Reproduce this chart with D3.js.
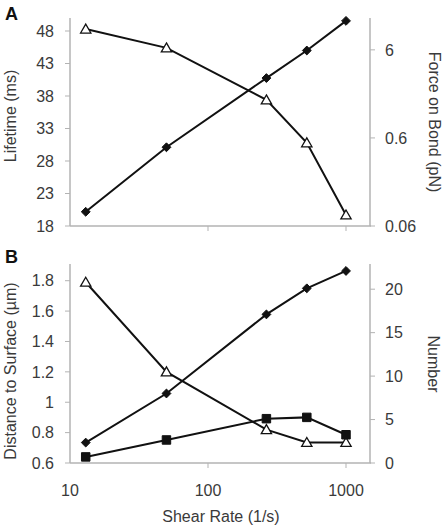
<!DOCTYPE html>
<html>
<head>
<meta charset="utf-8">
<script src="https://cdn.jsdelivr.net/npm/d3@7"></script>
<style>
  html, body { margin: 0; padding: 0; background: #fff; }
  svg { display: block; font-family: "Liberation Sans", Arial, sans-serif; }
</style>
</head>
<body>
<svg id="chart" width="444" height="530"></svg>
<script>
// ---- data ----
const shearRates = [13, 50, 265, 520, 1000];
const xTickValues = [10, 100, 1000];
const xTickLabels = ["10", "100", "1000"];

// Panel A
const lifetimeMs = [48.3, 45.4, 37.4, 30.8, 19.7];        // triangles, left axis
const forceOnBondPN = [0.087, 0.47, 2.87, 5.9, 12.8];     // diamonds, right (log) axis
const aLeftTicks = [18, 23, 28, 33, 38, 43, 48];
const aRightTicks = [0.06, 0.6, 6];
const aRightTickLabels = ["0.06", "0.6", "6"];

// Panel B
const distanceUm = [1.79, 1.2, 0.82, 0.735, 0.735];       // triangles, left axis
const numberDiamond = [2.35, 8.0, 17.1, 20.1, 22.1];      // diamonds, right axis
const numberSquare = [0.7, 2.65, 5.1, 5.25, 3.25];        // squares, right axis
const bLeftTicks = [0.6, 0.8, 1.0, 1.2, 1.4, 1.6, 1.8];
const bLeftTickLabels = ["0.6", "0.8", "1", "1.2", "1.4", "1.6", "1.8"];
const bRightTicks = [0, 5, 10, 15, 20];

// ---- layout ----
const svg = d3.select("#chart");
const X0 = 70, X1 = 370;
const axisColor = "#b3b3b3";
const textColor = "#3a3a3a";
const tickFont = 16;
const titleFont = 16;

const x = d3.scaleLog().domain([10, 1000]).range([70, 346]);

function drawPanel(opts) {
  const g = svg.append("g");
  const { top, bottom, yL, yR } = opts;

  // axis lines
  g.append("line").attr("x1", X0).attr("x2", X0).attr("y1", top).attr("y2", bottom)
    .attr("stroke", axisColor).attr("stroke-width", 1.5);
  g.append("line").attr("x1", X1).attr("x2", X1).attr("y1", top).attr("y2", bottom)
    .attr("stroke", axisColor).attr("stroke-width", 1.5);
  g.append("line").attr("x1", X0).attr("x2", X1 + 1).attr("y1", bottom).attr("y2", bottom)
    .attr("stroke", axisColor).attr("stroke-width", 1.5);

  // left ticks
  opts.leftTicks.forEach((t, i) => {
    const y = yL(t);
    g.append("line").attr("x1", X0 - 5).attr("x2", X0).attr("y1", y).attr("y2", y)
      .attr("stroke", axisColor).attr("stroke-width", 1);
    g.append("text").attr("x", X0 - 16).attr("y", y).attr("dy", "0.36em")
      .attr("text-anchor", "end").attr("font-size", tickFont).attr("fill", textColor)
      .text(opts.leftLabels[i]);
  });
  // right ticks
  opts.rightTicks.forEach((t, i) => {
    const y = yR(t);
    g.append("line").attr("x1", X1).attr("x2", X1 + 5).attr("y1", y).attr("y2", y)
      .attr("stroke", axisColor).attr("stroke-width", 1);
    g.append("text").attr("x", X1 + 15).attr("y", y).attr("dy", "0.36em")
      .attr("text-anchor", "start").attr("font-size", tickFont).attr("fill", textColor)
      .text(opts.rightLabels[i]);
  });
  // x ticks
  xTickValues.forEach((t, i) => {
    const xx = x(t);
    if (i > 0) {
      g.append("line").attr("x1", xx).attr("x2", xx).attr("y1", bottom).attr("y2", bottom + 5)
        .attr("stroke", axisColor).attr("stroke-width", 1);
    }
    if (opts.showXLabels) {
      g.append("text").attr("x", xx).attr("y", bottom + 33)
        .attr("text-anchor", "middle").attr("font-size", tickFont).attr("fill", textColor)
        .text(xTickLabels[i]);
    }
  });

  // axis titles
  g.append("text").attr("transform", `translate(16,${opts.leftTitleY}) rotate(-90)`)
    .attr("text-anchor", "middle").attr("font-size", titleFont).attr("fill", textColor)
    .text(opts.leftTitle);
  g.append("text").attr("transform", `translate(${opts.rightTitleX},${opts.rightTitleY}) rotate(90)`)
    .attr("text-anchor", "middle").attr("font-size", titleFont).attr("fill", textColor)
    .text(opts.rightTitle);

  // panel letter
  g.append("text").attr("x", 5).attr("y", opts.letterY).attr("font-size", 18)
    .attr("font-weight", "bold").attr("fill", "#111").text(opts.letter);

  // series
  opts.series.forEach(s => {
    const pts = shearRates.map((r, i) => [x(r), s.scale(s.values[i])]);
    g.append("path").attr("d", d3.line()(pts)).attr("fill", "none")
      .attr("stroke", "#111").attr("stroke-width", 2);
    const sym = s.type === "triangle" ? d3.symbolTriangle
      : s.type === "square" ? d3.symbolSquare : d3.symbolDiamond2;
    const size = s.type === "triangle" ? 46 : s.type === "square" ? 72 : 50;
    g.selectAll(null).data(pts).enter().append("path")
      .attr("transform", d => `translate(${d[0]},${d[1] + (s.type === "triangle" ? 1 : 0)})`)
      .attr("d", d3.symbol().type(sym).size(size))
      .attr("fill", s.type === "triangle" ? "#fff" : "#111")
      .attr("stroke", "#111").attr("stroke-width", s.type === "triangle" ? 1.3 : 1);
  });
}

// Panel A
const aTop = 18, aBottom = 226;
const yA_L = d3.scaleLinear().domain([18, 50]).range([aBottom, aTop]);
const yA_R = d3.scaleLog().domain([0.06, 13.8]).range([aBottom, aTop]);
drawPanel({
  top: aTop, bottom: aBottom, yL: yA_L, yR: yA_R,
  leftTicks: aLeftTicks, leftLabels: aLeftTicks.map(String),
  rightTicks: aRightTicks, rightLabels: aRightTickLabels,
  leftTitle: "Lifetime (ms)", leftTitleY: 116,
  rightTitle: "Force on Bond (pN)", rightTitleX: 429, rightTitleY: 122,
  letter: "A", letterY: 20, showXLabels: false,
  series: [
    { values: lifetimeMs, scale: yA_L, type: "triangle" },
    { values: forceOnBondPN, scale: yA_R, type: "diamond" }
  ]
});

// Panel B
const bTop = 264, bBottom = 463;
const yB_L = d3.scaleLinear().domain([0.6, 1.91]).range([bBottom, bTop]);
const yB_R = d3.scaleLinear().domain([0, 22.9]).range([bBottom, bTop]);
drawPanel({
  top: bTop, bottom: bBottom, yL: yB_L, yR: yB_R,
  leftTicks: bLeftTicks, leftLabels: bLeftTickLabels,
  rightTicks: bRightTicks, rightLabels: bRightTicks.map(String),
  leftTitle: "Distance to Surface (µm)", leftTitleY: 371,
  rightTitle: "Number", rightTitleX: 428, rightTitleY: 364,
  letter: "B", letterY: 263, showXLabels: true,
  series: [
    { values: distanceUm, scale: yB_L, type: "triangle" },
    { values: numberDiamond, scale: yB_R, type: "diamond" },
    { values: numberSquare, scale: yB_R, type: "square" }
  ]
});

// x axis title
svg.append("text").attr("x", 221).attr("y", 522).attr("text-anchor", "middle")
  .attr("font-size", titleFont).attr("fill", textColor).text("Shear Rate (1/s)");
</script>
</body>
</html>
